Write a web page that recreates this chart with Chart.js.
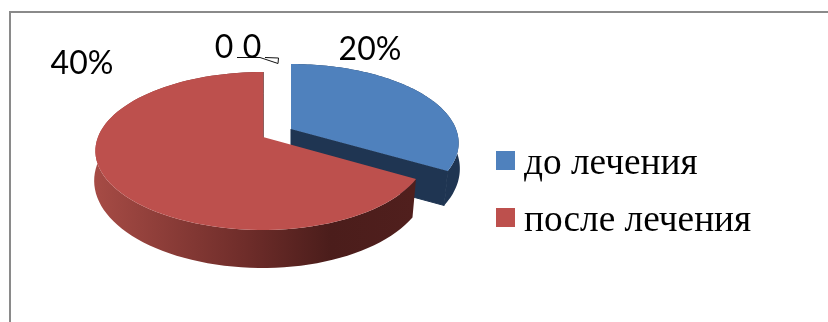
<!DOCTYPE html>
<html>
<head>
<meta charset="utf-8">
<script src="https://cdn.jsdelivr.net/npm/chart.js@4/dist/chart.umd.min.js"></script>
<style>
html, body { margin: 0; padding: 0; background: #fff; }
canvas { display: block; }
</style>
</head>
<body>
<canvas id="pieChart" width="828" height="322"></canvas>
<script>
const categories = ['до лечения', 'после лечения', '', ''];
const values = [20, 40, 0, 0];
const valueLabels = ['20%', '40%', '0', '0'];
const colors = ['#4f81bd', '#bd504d', '#9bbb59', '#8064a2'];

const apex = { x: 263, y: 137 };
const topRing = { rx: 165, ry: 76.5, k: 0.177, dy: 0 };
const bottomRing = { rx: 168, ry: 86.4, k: 0.1, dy: 35 };
const explode = [{ x: 28, y: -8 }, { x: 0, y: 0 }, { x: 0, y: 0 }, { x: 0, y: 0 }];
const rightScale = [1, 0.976, 1, 1];
const rimLift = [4, 0, 0, 0];
const labelPos = [{ x: 370, y: 50 }, { x: 82, y: 64 }, { x: 224, y: 48 }, { x: 252, y: 48 }];
const legendPos = [{ x: 496, y: 151 }, { x: 496, y: 208 }];

//project an angle (chart.js radians) onto a ring
function project(ring, angle, off, scale, lift) {
    const t = angle + Math.PI / 2;
    const u = Math.sin(t), v = Math.cos(t);
    const w = 1 / (1 + ring.k * v);
    return {
        x: apex.x + off.x + ring.rx * u * w * (u > 0 ? scale : 1),
        y: apex.y + off.y + ring.dy - lift - ring.ry * v * w
    };
}

function ringPoints(ring, start, end, off, scale, lift) {
    const pts = [];
    const steps = 90;
    for (let i = 0; i <= steps; i++) {
        pts.push(project(ring, start + (end - start) * i / steps, off, scale, lift));
    }
    return pts;
}

function tracePoly(ctx, pts) {
    ctx.beginPath();
    pts.forEach((p, i) => i ? ctx.lineTo(p.x, p.y) : ctx.moveTo(p.x, p.y));
    ctx.closePath();
}

function drawSlice(ctx, arc, index) {
    const off = explode[index], scale = rightScale[index], lift = rimLift[index];
    const start = arc.startAngle, end = arc.endAngle;
    const top = ringPoints(topRing, start, end, off, scale, 0);
    const bottom = ringPoints(bottomRing, start, end, off, scale, lift);
    const a = { x: apex.x + off.x, y: apex.y + off.y };
    const b = { x: a.x, y: a.y + bottomRing.dy };
    let wall = '#1f3552';
    if (index === 1) {
        wall = ctx.createLinearGradient(95, 0, 413, 0);
        wall.addColorStop(0, '#a64b45');
        wall.addColorStop(0.47, '#6f2d2a');
        wall.addColorStop(0.74, '#4b1d1b');
        wall.addColorStop(1, '#501f1d');
    }
    ctx.fillStyle = wall;
    ctx.strokeStyle = wall;
    ctx.lineWidth = 1;
    // outer rim
    tracePoly(ctx, top.concat(bottom.slice().reverse()));
    ctx.fill();
    // radial face at the end of the slice, stroked to hide the seam with the rim
    tracePoly(ctx, [a, top[top.length - 1], bottom[bottom.length - 1], b]);
    ctx.fill();
    ctx.stroke();
    // top face
    ctx.fillStyle = arc.options.backgroundColor;
    tracePoly(ctx, [a].concat(top));
    ctx.fill();
}

const pie3d = {
    id: 'pie3d',
    beforeDatasetDraw(chart) {
        const ctx = chart.ctx;
        chart.getDatasetMeta(0).data.forEach((arc, i) => {
            if (arc.circumference > 0) {
                drawSlice(ctx, arc, i);
            }
        });
        return false;
    },
    afterDraw(chart) {
        const ctx = chart.ctx;
        ctx.save();
        // frame, only top and left are in the picture
        ctx.strokeStyle = '#8a8a8a';
        ctx.lineWidth = 2;
        ctx.beginPath();
        ctx.moveTo(10, 322);
        ctx.lineTo(10, 12);
        ctx.lineTo(828, 12);
        ctx.stroke();

        // leader lines of the two zero slices
        ctx.strokeStyle = '#111';
        ctx.lineWidth = 1;
        ctx.beginPath();
        ctx.moveTo(237, 57.5);
        ctx.lineTo(260, 57.5);
        ctx.lineTo(278, 63.5);
        ctx.lineTo(278.5, 58);
        ctx.lineTo(265, 57.5);
        ctx.stroke();

        // value labels
        ctx.fillStyle = '#000';
        ctx.font = '32px Lato';
        ctx.textAlign = 'center';
        ctx.textBaseline = 'middle';
        valueLabels.forEach((t, i) => ctx.fillText(t, labelPos[i].x, labelPos[i].y));

        // legend
        ctx.textAlign = 'left';
        ctx.textBaseline = 'alphabetic';
        ctx.font = '37.3px "Liberation Serif"';
        legendPos.forEach((p, i) => {
            ctx.fillStyle = colors[i];
            ctx.fillRect(p.x, p.y, 19, 19);
            ctx.fillStyle = '#000';
            ctx.fillText(categories[i], p.x + 28, p.y + 23);
        });
        ctx.restore();
    }
};

new Chart(document.getElementById('pieChart').getContext('2d'), {
    type: 'pie',
    data: {
        labels: categories,
        datasets: [{
            data: values,
            backgroundColor: colors,
            borderWidth: 0
        }]
    },
    options: {
        responsive: false,
        animation: false,
        plugins: {
            legend: { display: false },
            tooltip: { enabled: false }
        }
    },
    plugins: [pie3d]
});
</script>
</body>
</html>
